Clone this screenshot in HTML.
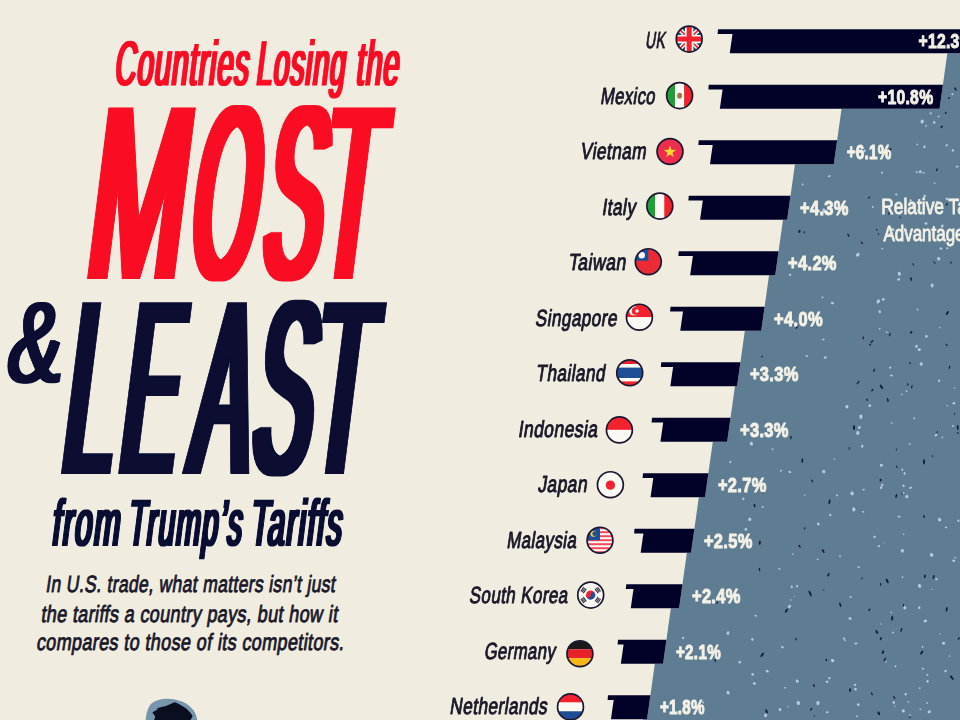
<!DOCTYPE html>
<html lang="en"><head><meta charset="utf-8"><title>Countries Losing the Most &amp; Least from Trump's Tariffs</title>
<style>html,body{margin:0;padding:0;background:#F0ECE0;overflow:hidden}svg{display:block}text{font-family:"Liberation Sans",sans-serif}</style></head><body>
<svg width="960" height="720" viewBox="0 0 960 720">
<defs>
<filter id="d10" x="-10%" y="-10%" width="120%" height="120%"><feMorphology operator="dilate" radius="1 0"/></filter>
<filter id="d20" x="-10%" y="-10%" width="120%" height="120%"><feMorphology operator="dilate" radius="2 0"/></filter>
<filter id="d30" x="-10%" y="-10%" width="120%" height="120%"><feMorphology operator="dilate" radius="3 0"/></filter>
<filter id="d50" x="-10%" y="-10%" width="120%" height="120%"><feMorphology operator="dilate" radius="5 0"/></filter>
<filter id="d21" x="-10%" y="-10%" width="120%" height="120%"><feMorphology operator="dilate" radius="2 1"/></filter>
<filter id="d40" x="-10%" y="-10%" width="120%" height="120%"><feMorphology operator="dilate" radius="4 0"/></filter>
<filter id="d60" x="-10%" y="-10%" width="120%" height="120%"><feMorphology operator="dilate" radius="6 0"/></filter>
<clipPath id="fc"><circle r="12.6"/></clipPath>
</defs>
<rect width="960" height="720" fill="#F0ECE0"/>
<polygon fill="#5E7D93" points="960,53.2 947.33,53.2 939.56,108.7 841.55,108.7 833.78,164.2 794.93,164.2 787.16,219.7 782.99,219.7 775.22,275.2 769.01,275.2 761.24,330.7 744.83,330.7 737.06,386.2 734.93,386.2 727.16,441.7 712.79,441.7 705.02,497.2 698.81,497.2 691.04,552.7 686.87,552.7 679.1,608.2 670.85,608.2 663.08,663.7 654.83,663.7 647.06,719.2 642.89,719.2 642.78,720 960,720"/>
<g opacity="0.9"><ellipse cx="863.69" cy="489.59" rx="1.23" ry="0.8" fill="#BDD6E8" transform="rotate(-16 863.69 489.59)"/><ellipse cx="843.93" cy="638.51" rx="1.29" ry="0.98" fill="#BDD6E8" transform="rotate(-11 843.93 638.51)"/><ellipse cx="910.05" cy="715.16" rx="0.93" ry="0.77" fill="#BDD6E8" transform="rotate(-32 910.05 715.16)"/><ellipse cx="758.14" cy="429.67" rx="0.77" ry="0.47" fill="#BDD6E8" transform="rotate(-40 758.14 429.67)"/><ellipse cx="947.04" cy="198.91" rx="1.41" ry="1.32" fill="#BDD6E8" transform="rotate(32 947.04 198.91)"/><ellipse cx="904.59" cy="473.44" rx="1.03" ry="1.42" fill="#BDD6E8" transform="rotate(-25 904.59 473.44)"/><ellipse cx="924.49" cy="146.83" rx="1.19" ry="1.36" fill="#BDD6E8" transform="rotate(-16 924.49 146.83)"/><ellipse cx="917.15" cy="144.44" rx="0.91" ry="0.74" fill="#BDD6E8" transform="rotate(35 917.15 144.44)"/><ellipse cx="938.68" cy="258.74" rx="1.55" ry="1.73" fill="#BDD6E8" transform="rotate(-28 938.68 258.74)"/><ellipse cx="789.84" cy="471.98" rx="1.43" ry="1.04" fill="#BDD6E8" transform="rotate(40 789.84 471.98)"/><ellipse cx="844.96" cy="640.25" rx="0.74" ry="1.01" fill="#BDD6E8" transform="rotate(-10 844.96 640.25)"/><ellipse cx="799.56" cy="546.29" rx="0.79" ry="1.7" fill="#0B1230" transform="rotate(-32 799.56 546.29)"/><ellipse cx="886.04" cy="661.87" rx="0.95" ry="0.6" fill="#BDD6E8" transform="rotate(-4 886.04 661.87)"/><ellipse cx="878.29" cy="301.4" rx="1.59" ry="2.2" fill="#BDD6E8" transform="rotate(26 878.29 301.4)"/><ellipse cx="751.4" cy="443.73" rx="1.61" ry="1.87" fill="#BDD6E8" transform="rotate(-36 751.4 443.73)"/><ellipse cx="882.94" cy="652.13" rx="1.05" ry="1.92" fill="#0B1230" transform="rotate(20 882.94 652.13)"/><ellipse cx="921.7" cy="652.55" rx="1.02" ry="2.27" fill="#0B1230" transform="rotate(39 921.7 652.55)"/><ellipse cx="804.61" cy="495.1" rx="0.79" ry="0.55" fill="#BDD6E8" transform="rotate(-8 804.61 495.1)"/><ellipse cx="880.88" cy="638.66" rx="0.85" ry="1.69" fill="#0B1230" transform="rotate(29 880.88 638.66)"/><ellipse cx="930.75" cy="113.3" rx="1.18" ry="0.93" fill="#BDD6E8" transform="rotate(-26 930.75 113.3)"/><ellipse cx="754.57" cy="505.57" rx="0.9" ry="1.79" fill="#0B1230" transform="rotate(-10 754.57 505.57)"/><ellipse cx="899.34" cy="273.79" rx="1.51" ry="2.01" fill="#BDD6E8" transform="rotate(-13 899.34 273.79)"/><ellipse cx="879.75" cy="311.72" rx="1.2" ry="1.52" fill="#BDD6E8" transform="rotate(-35 879.75 311.72)"/><ellipse cx="946.03" cy="527.4" rx="1.15" ry="0.94" fill="#BDD6E8" transform="rotate(-13 946.03 527.4)"/><ellipse cx="789.42" cy="606.39" rx="1.42" ry="1.8" fill="#BDD6E8" transform="rotate(39 789.42 606.39)"/><ellipse cx="762.09" cy="356.64" rx="0.52" ry="1.3" fill="#0B1230" transform="rotate(33 762.09 356.64)"/><ellipse cx="812.25" cy="481.05" rx="0.66" ry="1.72" fill="#0B1230" transform="rotate(-34 812.25 481.05)"/><ellipse cx="688.91" cy="707.45" rx="1.34" ry="1.2" fill="#BDD6E8" transform="rotate(-31 688.91 707.45)"/><ellipse cx="745.82" cy="529.35" rx="1.4" ry="1.42" fill="#BDD6E8" transform="rotate(38 745.82 529.35)"/><ellipse cx="782.37" cy="647.15" rx="1.59" ry="0.96" fill="#BDD6E8" transform="rotate(30 782.37 647.15)"/><ellipse cx="797.24" cy="681.21" rx="1.42" ry="1.78" fill="#BDD6E8" transform="rotate(-25 797.24 681.21)"/><ellipse cx="817.92" cy="703.06" rx="1.61" ry="2.07" fill="#BDD6E8" transform="rotate(4 817.92 703.06)"/><ellipse cx="937.23" cy="202.07" rx="1.23" ry="1.42" fill="#BDD6E8" transform="rotate(-23 937.23 202.07)"/><ellipse cx="887.81" cy="400.02" rx="0.85" ry="2.07" fill="#0B1230" transform="rotate(-12 887.81 400.02)"/><ellipse cx="919.68" cy="688.16" rx="0.84" ry="0.87" fill="#BDD6E8" transform="rotate(-6 919.68 688.16)"/><ellipse cx="872.3" cy="390.09" rx="0.81" ry="1.56" fill="#0B1230" transform="rotate(32 872.3 390.09)"/><ellipse cx="797.03" cy="586.26" rx="1.04" ry="1.37" fill="#BDD6E8" transform="rotate(20 797.03 586.26)"/><ellipse cx="665.18" cy="703.01" rx="0.98" ry="1.16" fill="#BDD6E8" transform="rotate(-9 665.18 703.01)"/><ellipse cx="924.05" cy="461.73" rx="0.99" ry="2.79" fill="#0B1230" transform="rotate(0 924.05 461.73)"/><ellipse cx="932.4" cy="456.06" rx="0.62" ry="0.85" fill="#0B1230" transform="rotate(-10 932.4 456.06)"/><ellipse cx="946.58" cy="344.97" rx="0.62" ry="1.45" fill="#0B1230" transform="rotate(-38 946.58 344.97)"/><ellipse cx="904.81" cy="607.75" rx="1.46" ry="1.59" fill="#BDD6E8" transform="rotate(32 904.81 607.75)"/><ellipse cx="784.38" cy="375.64" rx="0.86" ry="0.71" fill="#BDD6E8" transform="rotate(-28 784.38 375.64)"/><ellipse cx="823.2" cy="339.45" rx="1.33" ry="0.84" fill="#BDD6E8" transform="rotate(-15 823.2 339.45)"/><ellipse cx="804.44" cy="325.5" rx="0.72" ry="0.94" fill="#BDD6E8" transform="rotate(40 804.44 325.5)"/><ellipse cx="829.39" cy="678.13" rx="1.04" ry="1.26" fill="#BDD6E8" transform="rotate(-5 829.39 678.13)"/><ellipse cx="884.8" cy="659.46" rx="0.74" ry="2.09" fill="#0B1230" transform="rotate(28 884.8 659.46)"/><ellipse cx="898.98" cy="516.57" rx="1.42" ry="0.93" fill="#BDD6E8" transform="rotate(3 898.98 516.57)"/><ellipse cx="929.24" cy="711.78" rx="1.66" ry="1.39" fill="#BDD6E8" transform="rotate(-13 929.24 711.78)"/><ellipse cx="852.06" cy="493.44" rx="1.7" ry="1.89" fill="#BDD6E8" transform="rotate(-25 852.06 493.44)"/><ellipse cx="953.66" cy="560.75" rx="1.44" ry="1.16" fill="#BDD6E8" transform="rotate(11 953.66 560.75)"/><ellipse cx="906.54" cy="391.14" rx="0.96" ry="0.79" fill="#BDD6E8" transform="rotate(3 906.54 391.14)"/><ellipse cx="957.9" cy="432.87" rx="0.55" ry="1.24" fill="#0B1230" transform="rotate(-35 957.9 432.87)"/><ellipse cx="947.32" cy="313.04" rx="1.01" ry="2.2" fill="#0B1230" transform="rotate(36 947.32 313.04)"/><ellipse cx="869.8" cy="405.66" rx="1.36" ry="1.42" fill="#BDD6E8" transform="rotate(-4 869.8 405.66)"/><ellipse cx="896.24" cy="495.97" rx="0.85" ry="1.99" fill="#0B1230" transform="rotate(12 896.24 495.97)"/><ellipse cx="850.66" cy="597.02" rx="1.16" ry="0.88" fill="#BDD6E8" transform="rotate(-34 850.66 597.02)"/><ellipse cx="880.59" cy="480.13" rx="0.99" ry="1.43" fill="#0B1230" transform="rotate(-3 880.59 480.13)"/><ellipse cx="759.81" cy="542.63" rx="0.97" ry="2.26" fill="#0B1230" transform="rotate(5 759.81 542.63)"/><ellipse cx="749.79" cy="519.37" rx="1.65" ry="1.65" fill="#BDD6E8" transform="rotate(-15 749.79 519.37)"/><ellipse cx="683.03" cy="637.99" rx="1.13" ry="1.24" fill="#BDD6E8" transform="rotate(-27 683.03 637.99)"/><ellipse cx="715.25" cy="660.51" rx="0.79" ry="1.45" fill="#0B1230" transform="rotate(3 715.25 660.51)"/><ellipse cx="902.32" cy="469.66" rx="0.96" ry="1.2" fill="#BDD6E8" transform="rotate(7 902.32 469.66)"/><ellipse cx="921.26" cy="363.92" rx="1.61" ry="1.74" fill="#BDD6E8" transform="rotate(-2 921.26 363.92)"/><ellipse cx="907.89" cy="384.54" rx="0.63" ry="1.5" fill="#0B1230" transform="rotate(1 907.89 384.54)"/><ellipse cx="927.34" cy="674.88" rx="1.07" ry="0.95" fill="#BDD6E8" transform="rotate(10 927.34 674.88)"/><ellipse cx="909.76" cy="443.97" rx="1.09" ry="0.79" fill="#BDD6E8" transform="rotate(35 909.76 443.97)"/><ellipse cx="752.41" cy="639.39" rx="1.24" ry="1.31" fill="#BDD6E8" transform="rotate(-38 752.41 639.39)"/><ellipse cx="910.54" cy="487.79" rx="1.49" ry="0.99" fill="#BDD6E8" transform="rotate(-30 910.54 487.79)"/><ellipse cx="939.05" cy="380.75" rx="1.05" ry="1.31" fill="#BDD6E8" transform="rotate(2 939.05 380.75)"/><ellipse cx="829.46" cy="501.78" rx="0.92" ry="2.63" fill="#0B1230" transform="rotate(12 829.46 501.78)"/><ellipse cx="955.17" cy="557.65" rx="1.08" ry="0.72" fill="#BDD6E8" transform="rotate(19 955.17 557.65)"/><ellipse cx="850.05" cy="690.14" rx="0.98" ry="1.92" fill="#0B1230" transform="rotate(13 850.05 690.14)"/><ellipse cx="739.72" cy="662.27" rx="1.38" ry="1.19" fill="#BDD6E8" transform="rotate(9 739.72 662.27)"/><ellipse cx="903.57" cy="485.67" rx="1.16" ry="1.24" fill="#BDD6E8" transform="rotate(-36 903.57 485.67)"/><ellipse cx="862.26" cy="446.31" rx="1.14" ry="1.5" fill="#BDD6E8" transform="rotate(11 862.26 446.31)"/><ellipse cx="920.17" cy="171.86" rx="1.52" ry="1.49" fill="#BDD6E8" transform="rotate(-7 920.17 171.86)"/><ellipse cx="902.26" cy="493.77" rx="0.74" ry="1.18" fill="#0B1230" transform="rotate(-23 902.26 493.77)"/><ellipse cx="791.76" cy="586.94" rx="0.97" ry="1.36" fill="#BDD6E8" transform="rotate(-10 791.76 586.94)"/><ellipse cx="922.66" cy="646.85" rx="0.95" ry="0.89" fill="#BDD6E8" transform="rotate(-20 922.66 646.85)"/><ellipse cx="911.24" cy="332.41" rx="0.99" ry="1.42" fill="#0B1230" transform="rotate(39 911.24 332.41)"/><ellipse cx="878.48" cy="233.9" rx="0.5" ry="1.34" fill="#0B1230" transform="rotate(-21 878.48 233.9)"/><ellipse cx="949.46" cy="367.32" rx="0.68" ry="1.79" fill="#0B1230" transform="rotate(13 949.46 367.32)"/><ellipse cx="856.97" cy="716.2" rx="0.84" ry="0.95" fill="#BDD6E8" transform="rotate(19 856.97 716.2)"/><ellipse cx="902.37" cy="550.78" rx="1.56" ry="1.83" fill="#BDD6E8" transform="rotate(20 902.37 550.78)"/><ellipse cx="896.3" cy="194.44" rx="1.24" ry="1.04" fill="#BDD6E8" transform="rotate(3 896.3 194.44)"/><ellipse cx="840.06" cy="556.25" rx="1.08" ry="0.74" fill="#BDD6E8" transform="rotate(-1 840.06 556.25)"/><ellipse cx="827.1" cy="681.72" rx="1.53" ry="1.03" fill="#BDD6E8" transform="rotate(-22 827.1 681.72)"/><ellipse cx="829.29" cy="176.3" rx="1.4" ry="0.96" fill="#BDD6E8" transform="rotate(-36 829.29 176.3)"/><ellipse cx="790.91" cy="599.93" rx="0.72" ry="0.66" fill="#BDD6E8" transform="rotate(0 790.91 599.93)"/><ellipse cx="894.83" cy="706.09" rx="0.72" ry="0.62" fill="#BDD6E8" transform="rotate(3 894.83 706.09)"/><ellipse cx="926.09" cy="125.76" rx="1" ry="0.79" fill="#BDD6E8" transform="rotate(38 926.09 125.76)"/><ellipse cx="811.12" cy="709.27" rx="0.62" ry="1.79" fill="#0B1230" transform="rotate(40 811.12 709.27)"/><ellipse cx="903.51" cy="493.23" rx="1.12" ry="0.97" fill="#BDD6E8" transform="rotate(-29 903.51 493.23)"/><ellipse cx="767.22" cy="671.18" rx="1.67" ry="1.19" fill="#BDD6E8" transform="rotate(32 767.22 671.18)"/><ellipse cx="860.9" cy="416.66" rx="1.61" ry="2.24" fill="#BDD6E8" transform="rotate(2 860.9 416.66)"/><ellipse cx="940.97" cy="248.46" rx="1.53" ry="1.15" fill="#BDD6E8" transform="rotate(30 940.97 248.46)"/><ellipse cx="810.13" cy="593.43" rx="1.06" ry="3.17" fill="#0B1230" transform="rotate(-23 810.13 593.43)"/><ellipse cx="882.04" cy="172.63" rx="1.03" ry="1.15" fill="#BDD6E8" transform="rotate(-36 882.04 172.63)"/><ellipse cx="903.67" cy="534.28" rx="0.8" ry="0.7" fill="#BDD6E8" transform="rotate(39 903.67 534.28)"/><ellipse cx="832.57" cy="660.62" rx="1.59" ry="1.54" fill="#BDD6E8" transform="rotate(12 832.57 660.62)"/><ellipse cx="717.06" cy="602.58" rx="0.7" ry="1.49" fill="#0B1230" transform="rotate(13 717.06 602.58)"/><ellipse cx="762.22" cy="654.83" rx="1.04" ry="2.62" fill="#0B1230" transform="rotate(36 762.22 654.83)"/><ellipse cx="958.79" cy="638.64" rx="0.72" ry="1.57" fill="#0B1230" transform="rotate(32 958.79 638.64)"/><ellipse cx="937.22" cy="432.09" rx="0.57" ry="1.24" fill="#0B1230" transform="rotate(18 937.22 432.09)"/><ellipse cx="794.32" cy="596.19" rx="0.75" ry="0.47" fill="#BDD6E8" transform="rotate(0 794.32 596.19)"/><ellipse cx="798.33" cy="703" rx="1.62" ry="2.14" fill="#BDD6E8" transform="rotate(-15 798.33 703)"/><ellipse cx="854.02" cy="427.49" rx="1.09" ry="2.57" fill="#0B1230" transform="rotate(-1 854.02 427.49)"/><ellipse cx="876.82" cy="631.93" rx="1.06" ry="2.13" fill="#0B1230" transform="rotate(-30 876.82 631.93)"/><ellipse cx="936.87" cy="169.8" rx="0.66" ry="1.65" fill="#0B1230" transform="rotate(24 936.87 169.8)"/><ellipse cx="906.85" cy="496.63" rx="1.58" ry="1.7" fill="#BDD6E8" transform="rotate(-11 906.85 496.63)"/><ellipse cx="927.16" cy="702.91" rx="0.83" ry="0.94" fill="#BDD6E8" transform="rotate(19 927.16 702.91)"/><ellipse cx="788.19" cy="706.8" rx="0.75" ry="0.8" fill="#BDD6E8" transform="rotate(-4 788.19 706.8)"/><ellipse cx="957.14" cy="166.58" rx="1.43" ry="0.89" fill="#BDD6E8" transform="rotate(-21 957.14 166.58)"/><ellipse cx="828.41" cy="574.78" rx="0.91" ry="1.95" fill="#0B1230" transform="rotate(28 828.41 574.78)"/><ellipse cx="923.68" cy="172.79" rx="0.94" ry="0.89" fill="#BDD6E8" transform="rotate(-8 923.68 172.79)"/><ellipse cx="902.49" cy="577.13" rx="0.92" ry="0.98" fill="#BDD6E8" transform="rotate(23 902.49 577.13)"/><ellipse cx="823.83" cy="590.07" rx="0.52" ry="0.73" fill="#0B1230" transform="rotate(-18 823.83 590.07)"/><ellipse cx="938.63" cy="116.39" rx="0.86" ry="0.99" fill="#BDD6E8" transform="rotate(36 938.63 116.39)"/><ellipse cx="857.75" cy="254.72" rx="1.7" ry="2.05" fill="#BDD6E8" transform="rotate(38 857.75 254.72)"/><ellipse cx="924.04" cy="516.49" rx="0.78" ry="1.48" fill="#0B1230" transform="rotate(-13 924.04 516.49)"/><ellipse cx="917.5" cy="309.55" rx="0.88" ry="0.92" fill="#BDD6E8" transform="rotate(-20 917.5 309.55)"/><ellipse cx="817.62" cy="559.34" rx="0.88" ry="0.87" fill="#BDD6E8" transform="rotate(29 817.62 559.34)"/><ellipse cx="822.53" cy="297.46" rx="0.96" ry="0.88" fill="#BDD6E8" transform="rotate(-13 822.53 297.46)"/><ellipse cx="848.35" cy="235.29" rx="0.72" ry="1.85" fill="#0B1230" transform="rotate(-25 848.35 235.29)"/><ellipse cx="945.71" cy="112.89" rx="0.81" ry="1.05" fill="#0B1230" transform="rotate(10 945.71 112.89)"/><ellipse cx="834.35" cy="459.23" rx="0.83" ry="0.63" fill="#BDD6E8" transform="rotate(12 834.35 459.23)"/><ellipse cx="863.16" cy="337.88" rx="0.66" ry="1.64" fill="#0B1230" transform="rotate(8 863.16 337.88)"/><ellipse cx="804.64" cy="528.43" rx="0.64" ry="1.1" fill="#0B1230" transform="rotate(4 804.64 528.43)"/><ellipse cx="823.12" cy="551.09" rx="0.95" ry="2.26" fill="#0B1230" transform="rotate(-32 823.12 551.09)"/><ellipse cx="898.04" cy="212.84" rx="1.09" ry="0.71" fill="#BDD6E8" transform="rotate(9 898.04 212.84)"/><ellipse cx="946.73" cy="204.27" rx="0.71" ry="1.76" fill="#0B1230" transform="rotate(26 946.73 204.27)"/><ellipse cx="891.77" cy="423.11" rx="1.06" ry="0.69" fill="#BDD6E8" transform="rotate(11 891.77 423.11)"/><ellipse cx="855.96" cy="643.46" rx="1.6" ry="1" fill="#BDD6E8" transform="rotate(-13 855.96 643.46)"/><ellipse cx="858.7" cy="567.17" rx="1.12" ry="0.92" fill="#BDD6E8" transform="rotate(19 858.7 567.17)"/><ellipse cx="762.62" cy="506.92" rx="1.09" ry="0.87" fill="#BDD6E8" transform="rotate(23 762.62 506.92)"/><ellipse cx="892.21" cy="618.32" rx="1.03" ry="2.52" fill="#0B1230" transform="rotate(2 892.21 618.32)"/><ellipse cx="804.18" cy="232.28" rx="0.62" ry="1.2" fill="#0B1230" transform="rotate(-20 804.18 232.28)"/><ellipse cx="905.71" cy="694.18" rx="1.19" ry="1.25" fill="#BDD6E8" transform="rotate(7 905.71 694.18)"/><ellipse cx="881.47" cy="386.92" rx="1.05" ry="2.66" fill="#0B1230" transform="rotate(-32 881.47 386.92)"/><ellipse cx="903.3" cy="710.85" rx="1.55" ry="1.56" fill="#BDD6E8" transform="rotate(21 903.3 710.85)"/><ellipse cx="878.77" cy="546.05" rx="1.07" ry="1.22" fill="#BDD6E8" transform="rotate(-17 878.77 546.05)"/><ellipse cx="840.3" cy="604.84" rx="0.87" ry="2.36" fill="#0B1230" transform="rotate(-20 840.3 604.84)"/><ellipse cx="824.02" cy="210.49" rx="1.64" ry="2.26" fill="#BDD6E8" transform="rotate(-23 824.02 210.49)"/><ellipse cx="727.96" cy="632.74" rx="1.5" ry="1.39" fill="#BDD6E8" transform="rotate(-37 727.96 632.74)"/><ellipse cx="919.3" cy="607.63" rx="1.14" ry="1.48" fill="#BDD6E8" transform="rotate(-4 919.3 607.63)"/><ellipse cx="913.15" cy="205.62" rx="1.28" ry="1.46" fill="#BDD6E8" transform="rotate(-13 913.15 205.62)"/><ellipse cx="914.32" cy="418.33" rx="0.81" ry="1.09" fill="#BDD6E8" transform="rotate(-8 914.32 418.33)"/><ellipse cx="795.89" cy="639.15" rx="0.66" ry="1.47" fill="#0B1230" transform="rotate(-5 795.89 639.15)"/><ellipse cx="780.94" cy="470.69" rx="1.07" ry="0.86" fill="#BDD6E8" transform="rotate(-34 780.94 470.69)"/><ellipse cx="859.48" cy="427.46" rx="1.53" ry="1.22" fill="#BDD6E8" transform="rotate(-16 859.48 427.46)"/><ellipse cx="887.27" cy="580.91" rx="1" ry="2.57" fill="#0B1230" transform="rotate(-28 887.27 580.91)"/><ellipse cx="939.58" cy="327.63" rx="0.84" ry="0.72" fill="#BDD6E8" transform="rotate(7 939.58 327.63)"/><ellipse cx="823.97" cy="471.76" rx="1.35" ry="1.46" fill="#BDD6E8" transform="rotate(-7 823.97 471.76)"/><ellipse cx="911.07" cy="278.97" rx="0.83" ry="2.01" fill="#0B1230" transform="rotate(-18 911.07 278.97)"/><ellipse cx="891.33" cy="612.31" rx="0.77" ry="0.82" fill="#BDD6E8" transform="rotate(34 891.33 612.31)"/><ellipse cx="754.35" cy="683.47" rx="1.69" ry="1.21" fill="#BDD6E8" transform="rotate(8 754.35 683.47)"/><ellipse cx="806.73" cy="356.1" rx="1.02" ry="1.06" fill="#BDD6E8" transform="rotate(2 806.73 356.1)"/><ellipse cx="878.8" cy="713.3" rx="1.09" ry="2.1" fill="#0B1230" transform="rotate(-24 878.8 713.3)"/><ellipse cx="931.55" cy="554.88" rx="1.62" ry="2" fill="#BDD6E8" transform="rotate(-22 931.55 554.88)"/><ellipse cx="903.46" cy="605.33" rx="0.54" ry="1.49" fill="#0B1230" transform="rotate(3 903.46 605.33)"/><ellipse cx="925.92" cy="223.47" rx="1.57" ry="1.18" fill="#BDD6E8" transform="rotate(-5 925.92 223.47)"/><ellipse cx="728.1" cy="692.74" rx="1.46" ry="1.9" fill="#BDD6E8" transform="rotate(-31 728.1 692.74)"/><ellipse cx="919.6" cy="585.98" rx="1.61" ry="1.99" fill="#BDD6E8" transform="rotate(-21 919.6 585.98)"/><ellipse cx="945.57" cy="671.04" rx="1.12" ry="1.22" fill="#BDD6E8" transform="rotate(-37 945.57 671.04)"/><ellipse cx="850.02" cy="618.47" rx="1.69" ry="1.29" fill="#BDD6E8" transform="rotate(40 850.02 618.47)"/><ellipse cx="957.74" cy="427.58" rx="0.92" ry="2.5" fill="#0B1230" transform="rotate(-5 957.74 427.58)"/><ellipse cx="762.48" cy="492.46" rx="0.6" ry="1.35" fill="#0B1230" transform="rotate(-35 762.48 492.46)"/><ellipse cx="802.33" cy="460.62" rx="0.91" ry="2.31" fill="#0B1230" transform="rotate(6 802.33 460.62)"/><ellipse cx="893.03" cy="632.5" rx="0.97" ry="0.87" fill="#BDD6E8" transform="rotate(38 893.03 632.5)"/><ellipse cx="889.19" cy="213.14" rx="0.67" ry="1.84" fill="#0B1230" transform="rotate(18 889.19 213.14)"/><ellipse cx="872.76" cy="206.92" rx="0.92" ry="1.02" fill="#BDD6E8" transform="rotate(6 872.76 206.92)"/><ellipse cx="946.7" cy="145.23" rx="1.04" ry="1.31" fill="#BDD6E8" transform="rotate(35 946.7 145.23)"/><ellipse cx="924.67" cy="196.1" rx="1.29" ry="1.49" fill="#BDD6E8" transform="rotate(-38 924.67 196.1)"/><ellipse cx="743.35" cy="498.86" rx="1.21" ry="1.19" fill="#BDD6E8" transform="rotate(37 743.35 498.86)"/><ellipse cx="948.91" cy="98.2" rx="0.76" ry="1.23" fill="#0B1230" transform="rotate(29 948.91 98.2)"/><ellipse cx="958.39" cy="520.69" rx="1.1" ry="1.24" fill="#BDD6E8" transform="rotate(-13 958.39 520.69)"/><ellipse cx="867.14" cy="399.79" rx="0.81" ry="1.11" fill="#0B1230" transform="rotate(-30 867.14 399.79)"/><ellipse cx="933.6" cy="576.98" rx="0.78" ry="2.19" fill="#0B1230" transform="rotate(15 933.6 576.98)"/><ellipse cx="927.57" cy="681.39" rx="1.24" ry="1.27" fill="#BDD6E8" transform="rotate(-26 927.57 681.39)"/><ellipse cx="837.05" cy="495.38" rx="0.95" ry="1.01" fill="#BDD6E8" transform="rotate(19 837.05 495.38)"/><ellipse cx="941.76" cy="126.87" rx="0.81" ry="1.57" fill="#0B1230" transform="rotate(38 941.76 126.87)"/><ellipse cx="871.88" cy="693.86" rx="0.64" ry="1.68" fill="#0B1230" transform="rotate(-26 871.88 693.86)"/><ellipse cx="883.83" cy="542.73" rx="0.73" ry="0.5" fill="#BDD6E8" transform="rotate(-2 883.83 542.73)"/><ellipse cx="826.34" cy="659.98" rx="0.73" ry="1.28" fill="#0B1230" transform="rotate(-13 826.34 659.98)"/><ellipse cx="943.57" cy="643.21" rx="1.6" ry="1.47" fill="#BDD6E8" transform="rotate(-2 943.57 643.21)"/><ellipse cx="889.73" cy="234.5" rx="1.49" ry="1.35" fill="#BDD6E8" transform="rotate(15 889.73 234.5)"/><ellipse cx="813.89" cy="685.64" rx="0.72" ry="1.64" fill="#0B1230" transform="rotate(-27 813.89 685.64)"/><ellipse cx="883.29" cy="299.32" rx="1.31" ry="1.4" fill="#BDD6E8" transform="rotate(0 883.29 299.32)"/><ellipse cx="932.11" cy="285.49" rx="1.51" ry="2.04" fill="#BDD6E8" transform="rotate(7 932.11 285.49)"/><ellipse cx="862.16" cy="578.28" rx="0.53" ry="1.23" fill="#0B1230" transform="rotate(30 862.16 578.28)"/><ellipse cx="881.46" cy="465.22" rx="1.52" ry="1.5" fill="#BDD6E8" transform="rotate(2 881.46 465.22)"/><ellipse cx="792.69" cy="554.03" rx="0.82" ry="0.7" fill="#BDD6E8" transform="rotate(-31 792.69 554.03)"/><ellipse cx="946.7" cy="609.38" rx="0.93" ry="2.29" fill="#0B1230" transform="rotate(10 946.7 609.38)"/><ellipse cx="950.83" cy="262.64" rx="0.63" ry="1.22" fill="#0B1230" transform="rotate(28 950.83 262.64)"/><ellipse cx="952.78" cy="150.39" rx="1.11" ry="1.46" fill="#BDD6E8" transform="rotate(8 952.78 150.39)"/><ellipse cx="916.45" cy="346.25" rx="1.25" ry="1.6" fill="#BDD6E8" transform="rotate(34 916.45 346.25)"/><ellipse cx="910.04" cy="363.1" rx="0.74" ry="1.01" fill="#0B1230" transform="rotate(22 910.04 363.1)"/><ellipse cx="790.91" cy="437.49" rx="0.73" ry="1.81" fill="#0B1230" transform="rotate(15 790.91 437.49)"/><ellipse cx="687.89" cy="657.33" rx="1.23" ry="1.12" fill="#BDD6E8" transform="rotate(-25 687.89 657.33)"/><ellipse cx="918.12" cy="210.67" rx="1.55" ry="0.97" fill="#BDD6E8" transform="rotate(5 918.12 210.67)"/><ellipse cx="857.81" cy="432.93" rx="1.65" ry="2" fill="#BDD6E8" transform="rotate(-2 857.81 432.93)"/><ellipse cx="934.3" cy="122.47" rx="1.23" ry="1.34" fill="#BDD6E8" transform="rotate(-25 934.3 122.47)"/><ellipse cx="765.56" cy="715.39" rx="1.49" ry="1.85" fill="#BDD6E8" transform="rotate(37 765.56 715.39)"/><ellipse cx="881.06" cy="624.02" rx="0.72" ry="0.74" fill="#BDD6E8" transform="rotate(-8 881.06 624.02)"/><ellipse cx="799.44" cy="231.33" rx="1.07" ry="1.57" fill="#0B1230" transform="rotate(9 799.44 231.33)"/><ellipse cx="759.53" cy="569.64" rx="0.72" ry="1.88" fill="#0B1230" transform="rotate(-11 759.53 569.64)"/><ellipse cx="891.4" cy="375.47" rx="1.34" ry="1.09" fill="#BDD6E8" transform="rotate(4 891.4 375.47)"/><ellipse cx="942.4" cy="437.4" rx="0.7" ry="0.95" fill="#BDD6E8" transform="rotate(-25 942.4 437.4)"/><ellipse cx="889.56" cy="150.88" rx="1.08" ry="3.2" fill="#0B1230" transform="rotate(26 889.56 150.88)"/><ellipse cx="922.91" cy="668.69" rx="0.89" ry="1.03" fill="#BDD6E8" transform="rotate(-37 922.91 668.69)"/><ellipse cx="952.83" cy="426" rx="1" ry="0.87" fill="#BDD6E8" transform="rotate(-6 952.83 426)"/><ellipse cx="951.78" cy="677.67" rx="1.02" ry="2.93" fill="#0B1230" transform="rotate(-38 951.78 677.67)"/><ellipse cx="936.03" cy="435.13" rx="1.47" ry="1.07" fill="#BDD6E8" transform="rotate(-36 936.03 435.13)"/><ellipse cx="779.98" cy="709.63" rx="1.3" ry="1.67" fill="#BDD6E8" transform="rotate(-30 779.98 709.63)"/><ellipse cx="908.27" cy="701.76" rx="1.05" ry="0.64" fill="#BDD6E8" transform="rotate(-10 908.27 701.76)"/><ellipse cx="898.67" cy="279.35" rx="1.58" ry="1.17" fill="#BDD6E8" transform="rotate(-21 898.67 279.35)"/><ellipse cx="869.17" cy="197.55" rx="0.61" ry="1.48" fill="#0B1230" transform="rotate(38 869.17 197.55)"/><ellipse cx="876.71" cy="229.76" rx="0.61" ry="0.99" fill="#0B1230" transform="rotate(-2 876.71 229.76)"/><ellipse cx="901.6" cy="394.41" rx="0.95" ry="0.64" fill="#BDD6E8" transform="rotate(24 901.6 394.41)"/><ellipse cx="766.55" cy="711.27" rx="1.09" ry="2.08" fill="#0B1230" transform="rotate(-23 766.55 711.27)"/><ellipse cx="889.89" cy="334.61" rx="0.62" ry="1.77" fill="#0B1230" transform="rotate(31 889.89 334.61)"/><ellipse cx="896.36" cy="449.58" rx="0.51" ry="1.07" fill="#0B1230" transform="rotate(8 896.36 449.58)"/><ellipse cx="784.99" cy="687.78" rx="0.86" ry="0.85" fill="#BDD6E8" transform="rotate(-12 784.99 687.78)"/><ellipse cx="825.35" cy="357.48" rx="1.64" ry="1.08" fill="#BDD6E8" transform="rotate(-17 825.35 357.48)"/><ellipse cx="874.61" cy="536.8" rx="1.28" ry="1.05" fill="#BDD6E8" transform="rotate(26 874.61 536.8)"/><ellipse cx="947.27" cy="405.65" rx="0.78" ry="0.66" fill="#BDD6E8" transform="rotate(24 947.27 405.65)"/><ellipse cx="890.09" cy="367.6" rx="1.24" ry="1.03" fill="#BDD6E8" transform="rotate(-35 890.09 367.6)"/><ellipse cx="916.77" cy="172.2" rx="0.92" ry="1.14" fill="#BDD6E8" transform="rotate(23 916.77 172.2)"/><ellipse cx="730.35" cy="462.05" rx="0.87" ry="1.19" fill="#BDD6E8" transform="rotate(3 730.35 462.05)"/><ellipse cx="893.26" cy="229.98" rx="1.32" ry="1.13" fill="#BDD6E8" transform="rotate(5 893.26 229.98)"/><ellipse cx="871.96" cy="341.55" rx="0.79" ry="1.92" fill="#0B1230" transform="rotate(39 871.96 341.55)"/><ellipse cx="925.37" cy="620.97" rx="1.68" ry="1.4" fill="#BDD6E8" transform="rotate(-19 925.37 620.97)"/><ellipse cx="752.6" cy="674.33" rx="1.4" ry="1.22" fill="#BDD6E8" transform="rotate(-28 752.6 674.33)"/><ellipse cx="881.16" cy="487.4" rx="1.2" ry="1.53" fill="#BDD6E8" transform="rotate(32 881.16 487.4)"/><ellipse cx="861.89" cy="242.88" rx="0.64" ry="1.72" fill="#0B1230" transform="rotate(-35 861.89 242.88)"/><ellipse cx="942.3" cy="226.07" rx="1.26" ry="1.7" fill="#BDD6E8" transform="rotate(22 942.3 226.07)"/><ellipse cx="882.26" cy="484.76" rx="1.37" ry="0.96" fill="#BDD6E8" transform="rotate(-9 882.26 484.76)"/><ellipse cx="880.7" cy="584.3" rx="0.61" ry="1.62" fill="#0B1230" transform="rotate(-2 880.7 584.3)"/><ellipse cx="855.44" cy="689.07" rx="1.38" ry="1.27" fill="#BDD6E8" transform="rotate(-32 855.44 689.07)"/><ellipse cx="703.08" cy="702.38" rx="1.09" ry="0.88" fill="#BDD6E8" transform="rotate(38 703.08 702.38)"/><ellipse cx="924.81" cy="576.34" rx="0.88" ry="1.84" fill="#0B1230" transform="rotate(9 924.81 576.34)"/><ellipse cx="954.44" cy="387.94" rx="0.82" ry="0.59" fill="#BDD6E8" transform="rotate(15 954.44 387.94)"/><ellipse cx="829.89" cy="266.54" rx="1.39" ry="1.88" fill="#BDD6E8" transform="rotate(2 829.89 266.54)"/><ellipse cx="789.98" cy="274.78" rx="1.28" ry="1.08" fill="#BDD6E8" transform="rotate(19 789.98 274.78)"/><ellipse cx="779.38" cy="568.93" rx="1.19" ry="0.75" fill="#BDD6E8" transform="rotate(28 779.38 568.93)"/><ellipse cx="947.23" cy="248.28" rx="1.1" ry="0.96" fill="#BDD6E8" transform="rotate(5 947.23 248.28)"/><ellipse cx="936.39" cy="579.17" rx="1.18" ry="1.1" fill="#BDD6E8" transform="rotate(40 936.39 579.17)"/><ellipse cx="814.23" cy="716.24" rx="0.53" ry="0.79" fill="#0B1230" transform="rotate(30 814.23 716.24)"/><ellipse cx="894.32" cy="697.51" rx="0.66" ry="1.74" fill="#0B1230" transform="rotate(-35 894.32 697.51)"/><ellipse cx="818.3" cy="523.94" rx="1.17" ry="1.6" fill="#BDD6E8" transform="rotate(-33 818.3 523.94)"/><ellipse cx="911.82" cy="386.83" rx="0.64" ry="1.77" fill="#0B1230" transform="rotate(12 911.82 386.83)"/><ellipse cx="952.47" cy="94.13" rx="1.09" ry="1.06" fill="#BDD6E8" transform="rotate(-27 952.47 94.13)"/><ellipse cx="920.43" cy="709.21" rx="1.04" ry="0.64" fill="#BDD6E8" transform="rotate(25 920.43 709.21)"/><ellipse cx="802.58" cy="184.44" rx="0.91" ry="1.03" fill="#BDD6E8" transform="rotate(-14 802.58 184.44)"/><ellipse cx="893.73" cy="702.41" rx="1.44" ry="1.21" fill="#BDD6E8" transform="rotate(37 893.73 702.41)"/><ellipse cx="855" cy="684.85" rx="1.35" ry="1.06" fill="#BDD6E8" transform="rotate(-30 855 684.85)"/><ellipse cx="954.53" cy="413.84" rx="0.51" ry="0.99" fill="#0B1230" transform="rotate(14 954.53 413.84)"/><ellipse cx="892.39" cy="229.25" rx="1.69" ry="1.28" fill="#BDD6E8" transform="rotate(15 892.39 229.25)"/><ellipse cx="786.42" cy="610.64" rx="0.96" ry="2.43" fill="#0B1230" transform="rotate(34 786.42 610.64)"/><ellipse cx="796.96" cy="327.01" rx="0.85" ry="2.26" fill="#0B1230" transform="rotate(25 796.96 327.01)"/><ellipse cx="846.97" cy="406.68" rx="1.59" ry="1.8" fill="#BDD6E8" transform="rotate(-3 846.97 406.68)"/><ellipse cx="949.49" cy="656.07" rx="0.75" ry="0.73" fill="#BDD6E8" transform="rotate(31 949.49 656.07)"/><ellipse cx="827.27" cy="712.17" rx="1.46" ry="0.96" fill="#BDD6E8" transform="rotate(-2 827.27 712.17)"/><ellipse cx="910.63" cy="200.57" rx="1.21" ry="1.25" fill="#BDD6E8" transform="rotate(10 910.63 200.57)"/><ellipse cx="939.95" cy="633.93" rx="0.82" ry="0.55" fill="#BDD6E8" transform="rotate(-37 939.95 633.93)"/><ellipse cx="919.24" cy="349.63" rx="1.69" ry="1.31" fill="#BDD6E8" transform="rotate(-12 919.24 349.63)"/><ellipse cx="895.49" cy="666.34" rx="0.88" ry="0.95" fill="#BDD6E8" transform="rotate(-19 895.49 666.34)"/><ellipse cx="874.11" cy="370.26" rx="0.69" ry="1.89" fill="#0B1230" transform="rotate(21 874.11 370.26)"/><ellipse cx="955.44" cy="89.09" rx="0.83" ry="1.86" fill="#0B1230" transform="rotate(-28 955.44 89.09)"/><ellipse cx="857.98" cy="382.64" rx="0.75" ry="2.13" fill="#0B1230" transform="rotate(38 857.98 382.64)"/><ellipse cx="882.2" cy="248.77" rx="0.95" ry="0.79" fill="#BDD6E8" transform="rotate(-7 882.2 248.77)"/><ellipse cx="922.15" cy="121.52" rx="1.58" ry="2.05" fill="#BDD6E8" transform="rotate(16 922.15 121.52)"/><ellipse cx="830.28" cy="514.97" rx="1.2" ry="1.17" fill="#BDD6E8" transform="rotate(27 830.28 514.97)"/><ellipse cx="755.8" cy="615.69" rx="1.35" ry="0.85" fill="#BDD6E8" transform="rotate(18 755.8 615.69)"/><ellipse cx="869.36" cy="609.84" rx="0.77" ry="1.48" fill="#0B1230" transform="rotate(30 869.36 609.84)"/><ellipse cx="728.06" cy="634.06" rx="1.04" ry="0.98" fill="#BDD6E8" transform="rotate(31 728.06 634.06)"/><ellipse cx="934.57" cy="262.49" rx="0.55" ry="1.63" fill="#0B1230" transform="rotate(-39 934.57 262.49)"/><ellipse cx="901.35" cy="629.86" rx="0.77" ry="2.29" fill="#0B1230" transform="rotate(15 901.35 629.86)"/><ellipse cx="849.22" cy="448.41" rx="0.54" ry="1.37" fill="#0B1230" transform="rotate(-9 849.22 448.41)"/><ellipse cx="764.02" cy="491.42" rx="0.7" ry="2.05" fill="#0B1230" transform="rotate(31 764.02 491.42)"/><ellipse cx="953.8" cy="403.28" rx="1.5" ry="1.17" fill="#BDD6E8" transform="rotate(-19 953.8 403.28)"/><ellipse cx="864.54" cy="150.74" rx="1.17" ry="1.6" fill="#BDD6E8" transform="rotate(1 864.54 150.74)"/><ellipse cx="932.11" cy="589.31" rx="0.82" ry="0.49" fill="#BDD6E8" transform="rotate(-35 932.11 589.31)"/><ellipse cx="886.75" cy="332.15" rx="0.97" ry="0.74" fill="#BDD6E8" transform="rotate(-30 886.75 332.15)"/><ellipse cx="858.29" cy="704.63" rx="1.42" ry="1.41" fill="#BDD6E8" transform="rotate(-33 858.29 704.63)"/><ellipse cx="879.72" cy="328.85" rx="0.82" ry="0.73" fill="#BDD6E8" transform="rotate(37 879.72 328.85)"/><ellipse cx="832.45" cy="303.03" rx="1.61" ry="1.2" fill="#BDD6E8" transform="rotate(24 832.45 303.03)"/><ellipse cx="823.65" cy="471.63" rx="1.24" ry="1.7" fill="#BDD6E8" transform="rotate(-24 823.65 471.63)"/><ellipse cx="896.79" cy="466.95" rx="0.53" ry="1.43" fill="#0B1230" transform="rotate(-22 896.79 466.95)"/><ellipse cx="900.25" cy="217.41" rx="0.58" ry="1.06" fill="#0B1230" transform="rotate(-36 900.25 217.41)"/><ellipse cx="772.46" cy="449.11" rx="1.14" ry="0.75" fill="#BDD6E8" transform="rotate(26 772.46 449.11)"/><ellipse cx="939.56" cy="519.65" rx="1.55" ry="1.88" fill="#BDD6E8" transform="rotate(-26 939.56 519.65)"/><ellipse cx="853.83" cy="509.41" rx="1.58" ry="2.07" fill="#BDD6E8" transform="rotate(-5 853.83 509.41)"/><ellipse cx="909.7" cy="717.33" rx="0.59" ry="1.13" fill="#0B1230" transform="rotate(32 909.7 717.33)"/><ellipse cx="870.07" cy="344.65" rx="0.73" ry="1.23" fill="#0B1230" transform="rotate(-37 870.07 344.65)"/><ellipse cx="934.6" cy="183.24" rx="1.04" ry="0.62" fill="#BDD6E8" transform="rotate(-40 934.6 183.24)"/><ellipse cx="863.11" cy="511.83" rx="1.21" ry="0.75" fill="#BDD6E8" transform="rotate(15 863.11 511.83)"/><ellipse cx="913.2" cy="264.41" rx="0.59" ry="1.54" fill="#0B1230" transform="rotate(-15 913.2 264.41)"/><ellipse cx="926.36" cy="336.37" rx="1.37" ry="1.22" fill="#BDD6E8" transform="rotate(-33 926.36 336.37)"/></g>
<polygon fill="#020228" points="718,29.2 983.42,29.2 980.06,53.2 729.74,53.2 732.5,33.9 717.6,33.9"/>
<polygon fill="#020228" points="708.75,84.7 942.92,84.7 939.56,108.7 719.84,108.7 722.6,89.4 708.35,89.4"/>
<polygon fill="#020228" points="698.75,140.2 837.14,140.2 833.78,164.2 709.94,164.2 712.7,144.9 698.35,144.9"/>
<polygon fill="#020228" points="688.75,195.7 790.52,195.7 787.16,219.7 700.04,219.7 702.8,200.4 688.35,200.4"/>
<polygon fill="#020228" points="678.75,251.2 778.58,251.2 775.22,275.2 690.14,275.2 692.9,255.9 678.35,255.9"/>
<polygon fill="#020228" points="670.5,306.7 764.6,306.7 761.24,330.7 680.24,330.7 683,311.4 670.1,311.4"/>
<polygon fill="#020228" points="661.25,362.2 740.42,362.2 737.06,386.2 670.34,386.2 673.1,366.9 660.85,366.9"/>
<polygon fill="#020228" points="652,417.7 730.52,417.7 727.16,441.7 660.44,441.7 663.2,422.4 651.6,422.4"/>
<polygon fill="#020228" points="643,473.2 708.38,473.2 705.02,497.2 650.54,497.2 653.3,477.9 642.6,477.9"/>
<polygon fill="#020228" points="634.5,528.7 694.4,528.7 691.04,552.7 640.64,552.7 643.4,533.4 634.1,533.4"/>
<polygon fill="#020228" points="626.25,584.2 682.46,584.2 679.1,608.2 630.74,608.2 633.5,588.9 625.85,588.9"/>
<polygon fill="#020228" points="618,639.7 666.44,639.7 663.08,663.7 620.84,663.7 623.6,644.4 617.6,644.4"/>
<polygon fill="#020228" points="608,695.2 650.42,695.2 647.06,719.2 610.94,719.2 613.7,699.9 607.6,699.9"/>
<g transform="translate(689.2,39.1)"><g clip-path="url(#fc)"><rect x="-14" y="-14" width="28" height="28" fill="#1F4E6E"/><path d="M-14,-14L14,14M14,-14L-14,14" stroke="#FBF9F4" stroke-width="4.4"/><path d="M-14,-14L14,14M14,-14L-14,14" stroke="#F4222E" stroke-width="1.6"/><path d="M0,-14V14M-14,0H14" stroke="#FBF9F4" stroke-width="8.4"/><path d="M0,-14V14M-14,0H14" stroke="#F4222E" stroke-width="5"/></g><circle r="12.95" fill="none" stroke="#1B1531" stroke-width="1.7"/></g>
<g transform="translate(679.6,95.6)"><g clip-path="url(#fc)"><rect x="-14" y="-14" width="9.5" height="28" fill="#1DA038"/><rect x="-4.5" y="-14" width="9" height="28" fill="#FBF9F4"/><rect x="4.5" y="-14" width="9.5" height="28" fill="#F4222E"/><ellipse cx="0" cy="0.2" rx="2.5" ry="3" fill="#9A7B45"/></g><circle r="12.95" fill="none" stroke="#1B1531" stroke-width="1.7"/></g>
<g transform="translate(670,151.5)"><g clip-path="url(#fc)"><rect x="-14" y="-14" width="28" height="28" fill="#EF2D4E"/><polygon fill="#FFD92E" points="0,-6 1.53,-1.7 6.09,-1.58 2.47,1.2 3.76,5.58 0,3 -3.76,5.58 -2.47,1.2 -6.09,-1.58 -1.53,-1.7"/></g><circle r="12.95" fill="none" stroke="#1B1531" stroke-width="1.7"/></g>
<g transform="translate(659.8,206.1)"><g clip-path="url(#fc)"><rect x="-14" y="-14" width="9.5" height="28" fill="#1DA038"/><rect x="-4.5" y="-14" width="9" height="28" fill="#FBF9F4"/><rect x="4.5" y="-14" width="9.5" height="28" fill="#F4222E"/></g><circle r="12.95" fill="none" stroke="#1B1531" stroke-width="1.7"/></g>
<g transform="translate(648.3,261.7)"><g clip-path="url(#fc)"><rect x="-14" y="-14" width="28" height="28" fill="#EC2A35"/><rect x="-14" y="-14" width="14" height="13" fill="#1F4E96"/><circle cx="-6.5" cy="-6.5" r="3.2" fill="#FBF9F4"/></g><circle r="12.95" fill="none" stroke="#1B1531" stroke-width="1.7"/></g>
<g transform="translate(639.4,317.2)"><g clip-path="url(#fc)"><rect x="-14" y="-14" width="28" height="14" fill="#F4222E"/><rect x="-14" y="0" width="28" height="14" fill="#FBF9F4"/><circle cx="-5.6" cy="-6.3" r="4.6" fill="#FBF9F4"/><circle cx="-3.7" cy="-6.3" r="3.9" fill="#F4222E"/><circle cx="-2.4" cy="-6.2" r="1.7" fill="#FBF9F4"/></g><circle r="12.95" fill="none" stroke="#1B1531" stroke-width="1.7"/></g>
<g transform="translate(629.7,372.8)"><g clip-path="url(#fc)"><rect x="-14" y="-14" width="28" height="28" fill="#F4222E"/><rect x="-14" y="-8.8" width="28" height="17.4" fill="#FBF9F4"/><rect x="-14" y="-5.2" width="28" height="10.4" fill="#1F4E96"/></g><circle r="12.95" fill="none" stroke="#1B1531" stroke-width="1.7"/></g>
<g transform="translate(619.4,429.9)"><g clip-path="url(#fc)"><rect x="-14" y="-14" width="28" height="14" fill="#F4222E"/><rect x="-14" y="0" width="28" height="14" fill="#FBF9F4"/></g><circle r="12.95" fill="none" stroke="#1B1531" stroke-width="1.7"/></g>
<g transform="translate(610.4,484.7)"><g clip-path="url(#fc)"><rect x="-14" y="-14" width="28" height="28" fill="#FBF9F4"/><circle cy="0.4" r="4.7" fill="#F4222E"/></g><circle r="12.95" fill="none" stroke="#1B1531" stroke-width="1.7"/></g>
<g transform="translate(600,540.2)"><g clip-path="url(#fc)"><rect x="-14" y="-14" width="28" height="28" fill="#FBF9F4"/><rect x="-14" y="-13" width="28" height="2" fill="#F04A5E"/><rect x="-14" y="-9" width="28" height="2" fill="#F04A5E"/><rect x="-14" y="-5" width="28" height="2" fill="#F04A5E"/><rect x="-14" y="-1" width="28" height="2" fill="#F04A5E"/><rect x="-14" y="3" width="28" height="2" fill="#F04A5E"/><rect x="-14" y="7" width="28" height="2" fill="#F04A5E"/><rect x="-14" y="11" width="28" height="2" fill="#F04A5E"/><rect x="-14" y="-14" width="14" height="14" fill="#1F4E96"/><circle cx="-6.5" cy="-6.5" r="3" fill="#FFD92E"/><circle cx="-5.3" cy="-6.5" r="2.4" fill="#1F4E96"/></g><circle r="12.95" fill="none" stroke="#1B1531" stroke-width="1.7"/></g>
<g transform="translate(590.7,595.1)"><g clip-path="url(#fc)"><rect x="-14" y="-14" width="28" height="28" fill="#FBF9F4"/><g transform="rotate(-12)"><path d="M-4.6,0A4.6,4.6 0 0 1 4.6,0Z" fill="#F4222E"/><path d="M-4.6,0A4.6,4.6 0 0 0 4.6,0Z" fill="#1F4E96"/><circle cx="-2.3" cy="0" r="2.3" fill="#F4222E"/><circle cx="2.3" cy="0" r="2.3" fill="#1F4E96"/></g><g transform="rotate(35)"><path d="M7.2,-2.6V2.6M8.7,-2.6V2.6M10.2,-2.6V2.6" stroke="#34323E" stroke-width="1.1"/></g><g transform="rotate(145)"><path d="M7.2,-2.6V2.6M8.7,-2.6V2.6M10.2,-2.6V2.6" stroke="#34323E" stroke-width="1.1"/></g><g transform="rotate(215)"><path d="M7.2,-2.6V2.6M8.7,-2.6V2.6M10.2,-2.6V2.6" stroke="#34323E" stroke-width="1.1"/></g><g transform="rotate(325)"><path d="M7.2,-2.6V2.6M8.7,-2.6V2.6M10.2,-2.6V2.6" stroke="#34323E" stroke-width="1.1"/></g></g><circle r="12.95" fill="none" stroke="#1B1531" stroke-width="1.7"/></g>
<g transform="translate(579.9,653.7)"><g clip-path="url(#fc)"><rect x="-14" y="-14" width="28" height="9.6" fill="#1A1A1A"/><rect x="-14" y="-4.4" width="28" height="8.8" fill="#E8202A"/><rect x="-14" y="4.4" width="28" height="9.6" fill="#FDB515"/></g><circle r="12.95" fill="none" stroke="#1B1531" stroke-width="1.7"/></g>
<g transform="translate(570.5,706.9)"><g clip-path="url(#fc)"><rect x="-14" y="-14" width="28" height="9.6" fill="#F4222E"/><rect x="-14" y="-4.4" width="28" height="8.8" fill="#FBF9F4"/><rect x="-14" y="4.4" width="28" height="9.6" fill="#1F4E96"/></g><circle r="12.95" fill="none" stroke="#1B1531" stroke-width="1.7"/></g>
<text transform="translate(645,48.2) skewX(-8.5)" font-size="23.3" letter-spacing="0.6" fill="#1B1829" stroke="#1B1829" stroke-width="1" stroke-linejoin="round" textLength="20" lengthAdjust="spacingAndGlyphs">UK</text>
<text transform="translate(600,103.7) skewX(-8.5)" font-size="23.3" letter-spacing="0.6" fill="#1B1829" stroke="#1B1829" stroke-width="1" stroke-linejoin="round" textLength="55" lengthAdjust="spacingAndGlyphs">Mexico</text>
<text transform="translate(580.1,159.2) skewX(-8.5)" font-size="23.3" letter-spacing="0.6" fill="#1B1829" stroke="#1B1829" stroke-width="1" stroke-linejoin="round" textLength="66" lengthAdjust="spacingAndGlyphs">Vietnam</text>
<text transform="translate(601.5,214.7) skewX(-8.5)" font-size="23.3" letter-spacing="0.6" fill="#1B1829" stroke="#1B1829" stroke-width="1" stroke-linejoin="round" textLength="34" lengthAdjust="spacingAndGlyphs">Italy</text>
<text transform="translate(568,270.2) skewX(-8.5)" font-size="23.3" letter-spacing="0.6" fill="#1B1829" stroke="#1B1829" stroke-width="1" stroke-linejoin="round" textLength="57.75" lengthAdjust="spacingAndGlyphs">Taiwan</text>
<text transform="translate(534.75,325.7) skewX(-8.5)" font-size="23.3" letter-spacing="0.6" fill="#1B1829" stroke="#1B1829" stroke-width="1" stroke-linejoin="round" textLength="82.25" lengthAdjust="spacingAndGlyphs">Singapore</text>
<text transform="translate(535.5,381.2) skewX(-8.5)" font-size="23.3" letter-spacing="0.6" fill="#1B1829" stroke="#1B1829" stroke-width="1" stroke-linejoin="round" textLength="69.5" lengthAdjust="spacingAndGlyphs">Thailand</text>
<text transform="translate(517.75,436.7) skewX(-8.5)" font-size="23.3" letter-spacing="0.6" fill="#1B1829" stroke="#1B1829" stroke-width="1" stroke-linejoin="round" textLength="79.75" lengthAdjust="spacingAndGlyphs">Indonesia</text>
<text transform="translate(537.5,492.2) skewX(-8.5)" font-size="23.3" letter-spacing="0.6" fill="#1B1829" stroke="#1B1829" stroke-width="1" stroke-linejoin="round" textLength="49.5" lengthAdjust="spacingAndGlyphs">Japan</text>
<text transform="translate(506.3,547.7) skewX(-8.5)" font-size="23.3" letter-spacing="0.6" fill="#1B1829" stroke="#1B1829" stroke-width="1" stroke-linejoin="round" textLength="70" lengthAdjust="spacingAndGlyphs">Malaysia</text>
<text transform="translate(468.8,603.2) skewX(-8.5)" font-size="23.3" letter-spacing="0.6" fill="#1B1829" stroke="#1B1829" stroke-width="1" stroke-linejoin="round" textLength="98.9" lengthAdjust="spacingAndGlyphs">South Korea</text>
<text transform="translate(483.7,658.7) skewX(-8.5)" font-size="23.3" letter-spacing="0.6" fill="#1B1829" stroke="#1B1829" stroke-width="1" stroke-linejoin="round" textLength="71.6" lengthAdjust="spacingAndGlyphs">Germany</text>
<text transform="translate(449.3,714.2) skewX(-8.5)" font-size="23.3" letter-spacing="0.6" fill="#1B1829" stroke="#1B1829" stroke-width="1" stroke-linejoin="round" textLength="97.9" lengthAdjust="spacingAndGlyphs">Netherlands</text>
<text x="918.42" y="48.3" font-size="19.6" font-weight="bold" fill="#F3F0E6" stroke="#F3F0E6" stroke-width="1" stroke-linejoin="round" letter-spacing="0.4" textLength="55.5" lengthAdjust="spacingAndGlyphs">+12.3%</text>
<text x="877.92" y="103.8" font-size="19.6" font-weight="bold" fill="#F3F0E6" stroke="#F3F0E6" stroke-width="1" stroke-linejoin="round" letter-spacing="0.4" textLength="55.5" lengthAdjust="spacingAndGlyphs">+10.8%</text>
<text x="846.64" y="159.3" font-size="19.6" font-weight="bold" fill="#F3F0E6" stroke="#F3F0E6" stroke-width="1" stroke-linejoin="round" letter-spacing="0.4" textLength="45" lengthAdjust="spacingAndGlyphs">+6.1%</text>
<text x="800.02" y="214.8" font-size="19.6" font-weight="bold" fill="#F3F0E6" stroke="#F3F0E6" stroke-width="1" stroke-linejoin="round" letter-spacing="0.4" textLength="48.75" lengthAdjust="spacingAndGlyphs">+4.3%</text>
<text x="788.08" y="270.3" font-size="19.6" font-weight="bold" fill="#F3F0E6" stroke="#F3F0E6" stroke-width="1" stroke-linejoin="round" letter-spacing="0.4" textLength="48.75" lengthAdjust="spacingAndGlyphs">+4.2%</text>
<text x="774.1" y="325.8" font-size="19.6" font-weight="bold" fill="#F3F0E6" stroke="#F3F0E6" stroke-width="1" stroke-linejoin="round" letter-spacing="0.4" textLength="48.75" lengthAdjust="spacingAndGlyphs">+4.0%</text>
<text x="749.92" y="381.3" font-size="19.6" font-weight="bold" fill="#F3F0E6" stroke="#F3F0E6" stroke-width="1" stroke-linejoin="round" letter-spacing="0.4" textLength="48.75" lengthAdjust="spacingAndGlyphs">+3.3%</text>
<text x="740.02" y="436.8" font-size="19.6" font-weight="bold" fill="#F3F0E6" stroke="#F3F0E6" stroke-width="1" stroke-linejoin="round" letter-spacing="0.4" textLength="48.75" lengthAdjust="spacingAndGlyphs">+3.3%</text>
<text x="717.88" y="492.3" font-size="19.6" font-weight="bold" fill="#F3F0E6" stroke="#F3F0E6" stroke-width="1" stroke-linejoin="round" letter-spacing="0.4" textLength="48.75" lengthAdjust="spacingAndGlyphs">+2.7%</text>
<text x="703.9" y="547.8" font-size="19.6" font-weight="bold" fill="#F3F0E6" stroke="#F3F0E6" stroke-width="1" stroke-linejoin="round" letter-spacing="0.4" textLength="48.75" lengthAdjust="spacingAndGlyphs">+2.5%</text>
<text x="691.96" y="603.3" font-size="19.6" font-weight="bold" fill="#F3F0E6" stroke="#F3F0E6" stroke-width="1" stroke-linejoin="round" letter-spacing="0.4" textLength="48.75" lengthAdjust="spacingAndGlyphs">+2.4%</text>
<text x="675.94" y="658.8" font-size="19.6" font-weight="bold" fill="#F3F0E6" stroke="#F3F0E6" stroke-width="1" stroke-linejoin="round" letter-spacing="0.4" textLength="45" lengthAdjust="spacingAndGlyphs">+2.1%</text>
<text x="659.92" y="714.3" font-size="19.6" font-weight="bold" fill="#F3F0E6" stroke="#F3F0E6" stroke-width="1" stroke-linejoin="round" letter-spacing="0.4" textLength="45" lengthAdjust="spacingAndGlyphs">+1.8%</text>
<text x="881.3" y="213.8" font-size="22.2" fill="#F3F0E6" stroke="#F3F0E6" stroke-width="0.9" textLength="104.5" lengthAdjust="spacingAndGlyphs">Relative Tariff</text>
<text x="883.5" y="241" font-size="22.2" fill="#F3F0E6" stroke="#F3F0E6" stroke-width="0.9" textLength="81" lengthAdjust="spacingAndGlyphs">Advantage</text>
<g filter="url(#d10)"><text transform="translate(0,85) skewX(-7.13) scale(1,0.6279)" font-size="100" letter-spacing="4" fill="#FA0821" stroke="#FA0821" stroke-width="1.6"><tspan x="113.5" textLength="135" lengthAdjust="spacingAndGlyphs">Countries</tspan> <tspan x="255.2" textLength="89.8" lengthAdjust="spacingAndGlyphs">Losing</tspan> <tspan x="355" textLength="43.6" lengthAdjust="spacingAndGlyphs">the</tspan></text></g>
<g filter="url(#d50)"><text transform="translate(0,277.5) skewX(-7.13) scale(1,2.4651)" font-size="100" fill="#FA0821" stroke="#FA0821" stroke-width="0.8"><tspan x="83.23" textLength="95.15" lengthAdjust="spacingAndGlyphs">M</tspan><tspan x="186.48" textLength="63.54" lengthAdjust="spacingAndGlyphs">O</tspan><tspan x="259.19" textLength="56.63" lengthAdjust="spacingAndGlyphs">S</tspan><tspan x="315.19" textLength="55.92" lengthAdjust="spacingAndGlyphs">T</tspan></text></g>
<g filter="url(#d50)"><text transform="translate(0,472.8) skewX(-7.13) scale(1,2.4680)" font-size="100" fill="#070830" stroke="#070830" stroke-width="0.8"><tspan x="59.31" textLength="48.78" lengthAdjust="spacingAndGlyphs">L</tspan><tspan x="116.9" textLength="53.66" lengthAdjust="spacingAndGlyphs">E</tspan><tspan x="187.23" textLength="56.83" lengthAdjust="spacingAndGlyphs">A</tspan><tspan x="248.76" textLength="57.09" lengthAdjust="spacingAndGlyphs">S</tspan><tspan x="306.39" textLength="55.81" lengthAdjust="spacingAndGlyphs">T</tspan></text></g>
<g filter="url(#d20)"><text transform="translate(0,382.3) skewX(-7.13) scale(1,1.1467)" font-size="100" fill="#070830" stroke="#070830" stroke-width="1"><tspan x="4.79" textLength="53.92" lengthAdjust="spacingAndGlyphs">&amp;</tspan></text></g>
<g filter="url(#d10)"><text transform="translate(0,545.3) skewX(-7.13) scale(1,0.6424)" font-size="100" letter-spacing="6" fill="#070830" stroke="#070830" stroke-width="3"><tspan x="50.8" textLength="69.2" lengthAdjust="spacingAndGlyphs">from</tspan> <tspan x="127" textLength="115" lengthAdjust="spacingAndGlyphs">Trump’s</tspan> <tspan x="249.3" textLength="92.7" lengthAdjust="spacingAndGlyphs">Tariffs</tspan></text></g>
<text transform="translate(45.25,592) skewX(-8.5)" font-size="23.5" letter-spacing="0.5" fill="#1B1829" stroke="#1B1829" stroke-width="0.9" stroke-linejoin="round" textLength="289.85" lengthAdjust="spacingAndGlyphs">In U.S. trade, what matters isn’t just</text>
<text transform="translate(40.4,621.5) skewX(-8.5)" font-size="23.5" letter-spacing="0.5" fill="#1B1829" stroke="#1B1829" stroke-width="0.9" stroke-linejoin="round" textLength="297.2" lengthAdjust="spacingAndGlyphs">the tariffs a country pays, but how it</text>
<text transform="translate(36,650) skewX(-8.5)" font-size="23.5" letter-spacing="0.5" fill="#1B1829" stroke="#1B1829" stroke-width="0.9" stroke-linejoin="round" textLength="307.9" lengthAdjust="spacingAndGlyphs">compares to those of its competitors.</text>
<path fill="#7796AE" d="M145.6,720C146,715 147.5,708 150.8,704C154,700.8 159,699.2 165.4,698.7C171,698.4 177,699.6 182.1,701.4C187,703.4 190.5,706.5 193.5,710.2C195.5,713 196.8,716.5 197.2,720Z"/>
<path fill="#0A0E1F" d="M174.8,702.3C177,703.2 179,704 181,705.2C184,706.8 186.5,708.6 188.3,710.4C190.2,712.3 191.6,714 192.4,715.6C192.6,717 191.5,718.6 190.4,720L154,720C154.8,718.5 155.3,717.2 155,716L152.3,712.4C154.5,711 156,710.3 158,709.5L156.5,708.6C160,707.4 163,706.6 166,706C169,704.6 172,703.2 174.8,702.3Z"/>
</svg></body></html>
